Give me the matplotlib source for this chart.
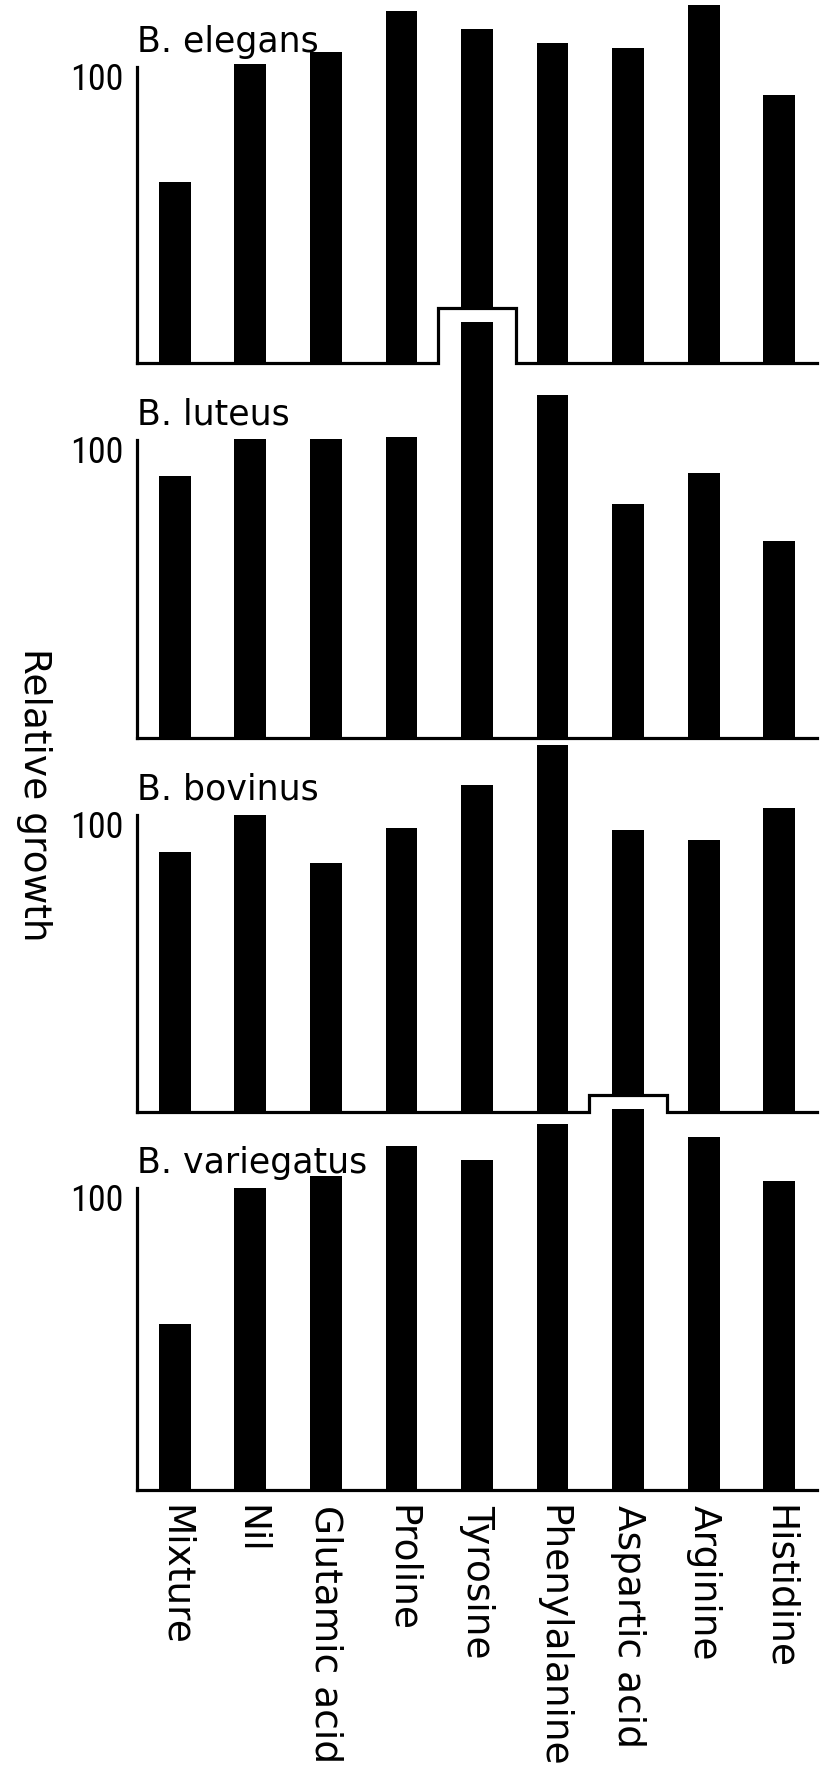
import matplotlib
matplotlib.use("Agg")
import matplotlib.pyplot as plt
import matplotlib.transforms as mtransforms
from matplotlib import font_manager
from matplotlib.patches import Rectangle
import numpy as np

# ---- data -----------------------------------------------------------------
amino_acids = ["Mixture", "Nil", "Glutamic acid", "Proline", "Tyrosine",
               "Phenylalanine", "Aspartic acid", "Arginine", "Histidine"]
species = ["B. elegans", "B. luteus", "B. bovinus", "B. variegatus"]

growth_elegans = [61, 101, 105, 119, 113, 108, 106.5, 121, 90.5]
growth_luteus = [88, 100.5, 100.5, 101, 139.5, 115, 78.5, 89, 66]
growth_bovinus = [87.5, 100, 84, 95.5, 110, 123.5, 95, 91.5, 102.5]
growth_variegatus = [55, 100, 104, 114, 109.2, 121.3, 126.2, 117, 102.2]

reference_level = 100
reference_label = "100"
y_title = "Relative growth"

series = [growth_elegans, growth_luteus, growth_bovinus, growth_variegatus]

# ---- fonts ------------------------------------------------------------------
installed = {f.name for f in font_manager.fontManager.ttflist}
narrow_font = next((n for n in ["Liberation Sans Narrow", "DejaVu Sans Condensed",
                                "Roboto Condensed", "Liberation Sans", "Roboto"]
                    if n in installed), "DejaVu Sans")
narrow_size = 26 if "Narrow" in narrow_font or "Condensed" in narrow_font else 25

# ---- figure layout (pixels) ---------------------------------------------
W, H, DPI = 825, 1767, 100
fig = plt.figure(figsize=(W / DPI, H / DPI), dpi=DPI)
fig.patch.set_facecolor("white")

# (row of the 100 level, row of the baseline) for each panel
panel_rows = [(67, 363), (440, 738), (815, 1112), (1188, 1490)]
left_px, right_px = 137, 817
LW = 2.3
BAR_W = 0.42
NOTCH_HALF = 0.52
NOTCH_MARGIN_PX = 14

x = np.arange(len(amino_acids))

axes = []
for k, (top, bottom) in enumerate(panel_rows):
    ax = fig.add_axes([left_px / W, 1 - bottom / H,
                       (right_px - left_px) / W, (bottom - top) / H])
    ax.set_facecolor("none")
    ax.set_xlim(-0.5, len(amino_acids) - 0.5)
    ax.set_ylim(0, reference_level)
    ax.bar(x, series[k], width=BAR_W, color="black", linewidth=0,
           clip_on=False, zorder=2)
    for side in ("top", "right", "bottom"):
        ax.spines[side].set_visible(False)
    ax.spines["left"].set_linewidth(LW)
    ax.spines["left"].set_capstyle("projecting")
    ax.set_yticks([reference_level])
    ax.set_yticklabels([reference_label], fontsize=narrow_size,
                       family=narrow_font)
    ax.tick_params(axis="y", length=0, pad=10)
    shift = mtransforms.ScaledTranslation(0, 5 / DPI, fig.dpi_scale_trans)
    for lab in ax.get_yticklabels():
        lab.set_va("top")
        lab.set_transform(lab.get_transform() + shift)
    ax.annotate(species[k], xy=(0, 1), xycoords="axes fraction",
                xytext=(0, 11), textcoords="offset points",
                ha="left", va="baseline", fontsize=25,
                family="DejaVu Sans")
    if k < len(panel_rows) - 1:
        ax.set_xticks([])
    axes.append(ax)

# category labels under the lowest panel
axes[-1].set_xticks(x)
axes[-1].set_xticklabels(amino_acids, rotation=270, fontsize=27,
                         family="DejaVu Sans", va="top", ha="center")
axes[-1].tick_params(axis="x", length=0, pad=11)

fig.canvas.draw()

# baselines; where a bar of the panel below rises past this baseline,
# the baseline steps up around it
for k, ax in enumerate(axes):
    px_per_unit = ax.transData.transform((0, 1))[1] - ax.transData.transform((0, 0))[1]
    notches = []
    if k + 1 < len(axes):
        lower = axes[k + 1]
        for j, v in enumerate(series[k + 1]):
            disp = lower.transData.transform((j, v))
            y_here = ax.transData.inverted().transform(disp)[1]
            if y_here > 0:
                notches.append((j, y_here + NOTCH_MARGIN_PX / px_per_unit))
    xs, ys = [-0.5], [0]
    for j, h in notches:
        xs += [j - NOTCH_HALF, j - NOTCH_HALF, j + NOTCH_HALF, j + NOTCH_HALF]
        ys += [0, h, h, 0]
        ax.add_patch(Rectangle((j - NOTCH_HALF, -0.5), 2 * NOTCH_HALF, h + 0.5,
                               facecolor="white", edgecolor="none",
                               clip_on=False, zorder=3))
    xs.append(len(amino_acids) - 0.5)
    ys.append(0)
    ax.plot(xs, ys, color="black", lw=LW, clip_on=False, zorder=4,
            solid_joinstyle="miter", solid_capstyle="projecting")

fig.text(34 / W, 1 - 795 / H, y_title, rotation=270, ha="center",
         va="center", fontsize=27, family="DejaVu Sans")

fig.savefig("out.png", dpi=DPI, facecolor="white")
